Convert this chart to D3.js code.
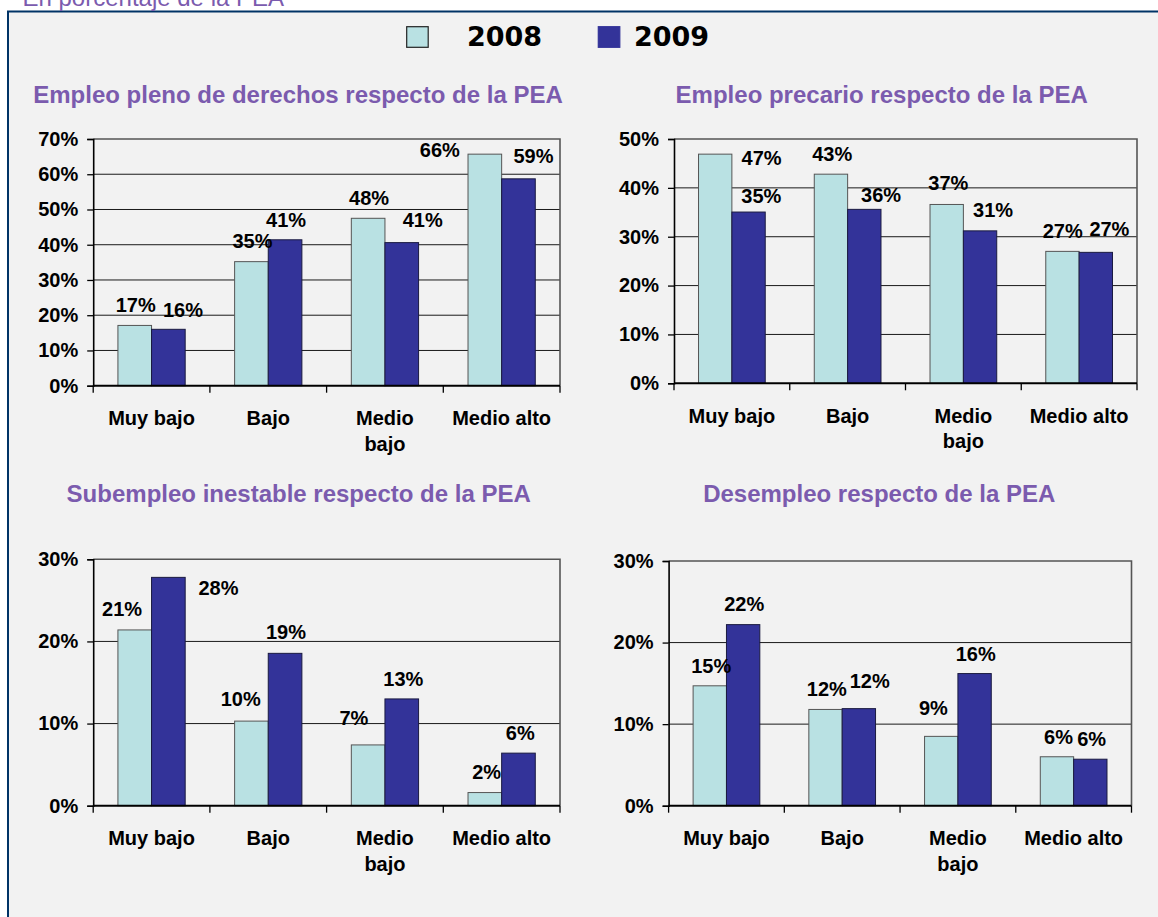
<!DOCTYPE html>
<html>
<head>
<meta charset="utf-8">
<script src="https://cdn.jsdelivr.net/npm/d3@7"></script>
<style>
html,body{margin:0;padding:0;background:#ffffff;}
svg{display:block;}
</style>
</head>
<body>
<svg id="chart" width="1158" height="917"></svg>
<script>
// ---------- data ----------
const categories = ["Muy bajo", "Bajo", "Medio bajo", "Medio alto"];
const seriesNames = ["2008", "2009"];
const caption = "En porcentaje de la PEA";
const panelTitles = [
  "Empleo pleno de derechos respecto de la PEA",
  "Empleo precario respecto de la PEA",
  "Subempleo inestable respecto de la PEA",
  "Desempleo respecto de la PEA"
];
const plenoValues2008 = [17.1, 35.2, 47.5, 65.7];
const plenoValues2009 = [16.0, 41.4, 40.6, 58.7];
const precarioValues2008 = [46.9, 42.8, 36.6, 27.0];
const precarioValues2009 = [35.05, 35.6, 31.2, 26.8];
const subempleoValues2008 = [21.4, 10.3, 7.4, 1.6];
const subempleoValues2009 = [27.8, 18.55, 13.0, 6.4];
const desempleoValues2008 = [14.7, 11.8, 8.5, 6.0];
const desempleoValues2009 = [22.2, 11.9, 16.2, 5.7];
const yTicksPleno = [0, 10, 20, 30, 40, 50, 60, 70];
const yTicksPrecario = [0, 10, 20, 30, 40, 50];
const yTicksSubempleo = [0, 10, 20, 30];
const yTicksDesempleo = [0, 10, 20, 30];

// ---------- layout / style (not data) ----------
const colors = {"2008": "#B9E1E3", "2009": "#333399"};
const purple = "#7B5BAE";
const panels = [
  {title: panelTitles[0], v: [plenoValues2008, plenoValues2009], ticks: yTicksPleno,
   left: 93.2, right: 560, top: 139, bottom: 385.7, tx: 298, ty: 102.5,
   nudge: [[[1,-13.7],[1,-13.3],[1,-13.3],[-45,3.3]], [[14.6,-12.7],[1,-12.7],[20.9,-15.3],[15,-16.3]]]},
  {title: panelTitles[1], v: [precarioValues2008, precarioValues2009], ticks: yTicksPrecario,
   left: 674, right: 1137, top: 139, bottom: 383.3, tx: 881.7, ty: 103.3,
   nudge: [[[46.4,10.7],[1.3,-12.7],[1.6,-14.3],[0.3,-13]], [[12.8,-9.3],[16.8,-7.7],[13,-13.7],[13.6,-16.7]]]},
  {title: panelTitles[2], v: [subempleoValues2008, subempleoValues2009], ticks: yTicksSubempleo,
   left: 93.2, right: 560, top: 559.3, bottom: 805.7, tx: 298.7, ty: 502,
   nudge: [[[-12.6,-13.7],[-10.7,-14.7],[-14.3,-19.7],[1.8,-13.3]], [[50.1,17.7],[0.9,-14],[1.6,-13.3],[1.8,-13.3]]]},
  {title: panelTitles[3], v: [desempleoValues2008, desempleoValues2009], ticks: yTicksDesempleo,
   left: 668.6, right: 1131.5, top: 561, bottom: 805.7, tx: 879.2, ty: 502,
   nudge: [[[1.4,-12.3],[1.3,-13],[-7.8,-21.3],[1.6,-12.7]], [[1.1,-13.3],[10.9,-20.7],[1.1,-13],[1.4,-13.7]]]}
];

const svg = d3.select("#chart");
const FONT = "'Liberation Sans', Arial, sans-serif";

// background & frame
svg.append("rect").attr("x", 0).attr("y", 0).attr("width", 1158).attr("height", 917).attr("fill", "#ffffff");
svg.append("rect").attr("x", 8).attr("y", 11.5).attr("width", 1200).attr("height", 1000)
  .attr("fill", "#F2F2F2").attr("stroke", "#003366").attr("stroke-width", 2);

// caption (partly cut off at top)
svg.append("text").attr("x", 22.5).attr("y", 5.5).attr("fill", purple)
  .attr("font-family", FONT).attr("font-size", 24).text(caption);

// legend
const legendPos = [{sx: 406.7, tx: 467}, {sx: 598.3, tx: 634}];
seriesNames.forEach((s, i) => {
  svg.append("rect").attr("x", legendPos[i].sx).attr("y", 26.7).attr("width", 21.5).attr("height", 20.6)
    .attr("fill", colors[s]).attr("stroke", i === 0 ? "#222" : colors[s]).attr("stroke-width", 1.2);
  svg.append("text").attr("x", legendPos[i].tx).attr("y", 45.5)
    .attr("font-family", "'DejaVu Sans', sans-serif").attr("font-weight", "bold").attr("font-size", 27)
    .attr("fill", "#000").text(s);
});

panels.forEach(p => {
  const g = svg.append("g");
  const x = d3.scaleBand().domain(categories).range([p.left, p.right]).padding(0);
  const xs = d3.scaleBand().domain(seriesNames).range([0, x.bandwidth()]).paddingInner(0).paddingOuter(0.735);
  const y = d3.scaleLinear().domain([0, d3.max(p.ticks)]).range([p.bottom, p.top]);

  // title
  g.append("text").attr("x", p.tx).attr("y", p.ty).attr("text-anchor", "middle")
    .attr("font-family", FONT).attr("font-weight", "bold").attr("font-size", 24)
    .attr("fill", purple).text(p.title);

  // gridlines
  g.selectAll(".grid").data(p.ticks.slice(1, -1)).enter().append("line")
    .attr("x1", p.left).attr("x2", p.right)
    .attr("y1", d => y(d)).attr("y2", d => y(d))
    .attr("stroke", "#1a1a1a").attr("stroke-width", 1);

  // plot border (top & right)
  g.append("path")
    .attr("d", `M${p.left},${p.top}H${p.right}V${p.bottom}`)
    .attr("fill", "none").attr("stroke", "#555").attr("stroke-width", 1.6);

  // bars
  seriesNames.forEach((s, si) => {
    g.selectAll(".bar" + si).data(p.v[si]).enter().append("rect")
      .attr("x", (d, i) => x(categories[i]) + xs(s))
      .attr("y", d => y(d))
      .attr("width", xs.bandwidth())
      .attr("height", d => y(0) - y(d))
      .attr("fill", colors[s])
      .attr("stroke", si === 0 ? "#555" : "#1a1a40").attr("stroke-width", 1);
  });

  // y axis
  const yAxis = d3.axisLeft(y).tickValues(p.ticks).tickSize(6).tickPadding(9).tickFormat(d => d + "%");
  const ya = g.append("g").attr("transform", `translate(${p.left},0)`).call(yAxis);
  ya.select(".domain").attr("stroke", "#000").attr("stroke-width", 1.6);
  ya.selectAll(".tick line").attr("stroke", "#000").attr("stroke-width", 1.3);
  ya.selectAll(".tick text").attr("font-family", FONT).attr("font-weight", "bold")
    .attr("font-size", 20).attr("fill", "#000");

  // x axis line + boundary ticks
  g.append("line").attr("x1", p.left).attr("x2", p.right).attr("y1", y(0)).attr("y2", y(0))
    .attr("stroke", "#000").attr("stroke-width", 2);
  const bounds = categories.map(c => x(c)).concat([p.right]);
  g.selectAll(".xt").data(bounds).enter().append("line")
    .attr("x1", d => d).attr("x2", d => d).attr("y1", y(0)).attr("y2", y(0) + 7)
    .attr("stroke", "#000").attr("stroke-width", 1.3);

  // x labels (wrapped)
  categories.forEach(c => {
    const words = c === "Medio bajo" ? ["Medio", "bajo"] : [c];
    const t = g.append("text").attr("text-anchor", "middle")
      .attr("font-family", FONT).attr("font-weight", "bold").attr("font-size", 20).attr("fill", "#000");
    words.forEach((w, wi) => {
      t.append("tspan").attr("x", x(c) + x.bandwidth() / 2).attr("y", y(0) + 39.3 + wi * 25.5).text(w);
    });
  });

  // data labels
  seriesNames.forEach((s, si) => {
    g.selectAll(".lab" + si).data(p.v[si]).enter().append("text")
      .attr("x", (d, i) => x(categories[i]) + xs(s) + xs.bandwidth() / 2 + p.nudge[si][i][0])
      .attr("y", (d, i) => y(d) + p.nudge[si][i][1])
      .attr("text-anchor", "middle")
      .attr("font-family", FONT).attr("font-weight", "bold").attr("font-size", 20).attr("fill", "#000")
      .text(d => Math.round(d) + "%");
  });
});
</script>
</body>
</html>
